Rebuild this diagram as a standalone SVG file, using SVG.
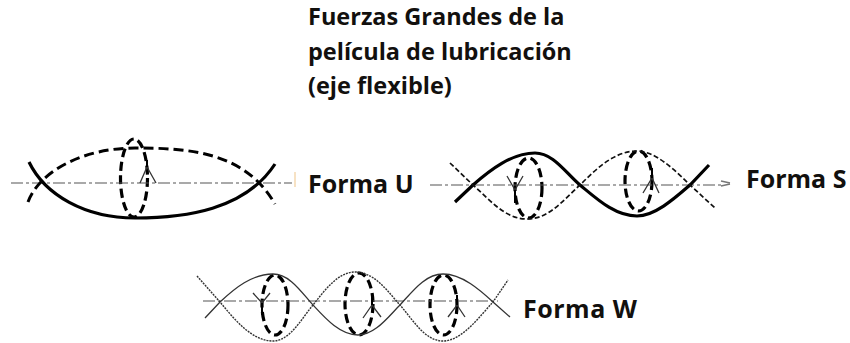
<svg xmlns="http://www.w3.org/2000/svg" width="850" height="343" viewBox="0 0 850 343">
<style>
text{font-family:"Open Sans","Noto Sans","Liberation Sans",sans-serif;font-weight:700;fill:#12100e}
.title{font-size:23.5px}
.lab{font-size:25px}
path,line{fill:none}
.axis{stroke:#555;stroke-width:1.2;stroke-dasharray:12 3 3 3}
.thick{stroke:#000;stroke-width:3.2}
.dash{stroke:#000;stroke-width:3;stroke-dasharray:10 5}
.sdash{stroke:#111;stroke-width:1.7;stroke-dasharray:5 2.500}
.thin{stroke:#333;stroke-width:1.3}
.dot{stroke:#333;stroke-width:1.4;stroke-dasharray:2 1}
.ell{fill:none;stroke:#000;stroke-width:3.200;stroke-dasharray:9 4.500}
.arr{stroke:#333;stroke-width:1.3}
</style>
<g id="title"><text class="title" x="308" y="25">Fuerzas Grandes de la</text><text class="title" x="308" y="60">película de lubricación</text><text class="title" x="308" y="94">(eje flexible)</text></g>
<g id="forma-u">
<ellipse class="ell" cx="134" cy="178" rx="13.5" ry="39"/>
<text class="lab" x="308" y="193">Forma U</text>
</g>
<g id="forma-s">
<ellipse class="ell" cx="528.500" cy="188" rx="13.500" ry="30"/>
<ellipse class="ell" cx="638.500" cy="181" rx="13.500" ry="30"/>
<text class="lab" x="746" y="188">Forma S</text>
</g>
<g id="forma-w">
<ellipse class="ell" cx="275" cy="305" rx="13" ry="30"/>
<ellipse class="ell" cx="359" cy="304" rx="14" ry="31"/>
<ellipse class="ell" cx="443.500" cy="305" rx="13.500" ry="30"/>
<text class="lab" x="523" y="318" textLength="114">Forma W</text>
</g>
<g id="connectors">
<line class="axis" x1="11" y1="183" x2="292" y2="183"/>
<line x1="295" y1="172" x2="295" y2="187" stroke="#f5d9b0" stroke-width="1.5"/>
<path class="thick" d="M29 162C45 195 85 218 135 218C185 218 245 210 275 164"/>
<path class="dash" d="M28 202C40 170 85 148 135 148C190 148 245 152 275 204"/>
<path class="arr" d="M140 183L147 167L156 183"/>
<path d="M147 167V160" stroke="#000" stroke-width="2"/>
<line class="axis" x1="430" y1="185" x2="722" y2="185"/>
<path d="M721 181L730 183M721 186L730 184" stroke="#777" stroke-width="1.500"/>
<path class="thick" d="M455 202L473 185C490 170 512 153 535 153C553 153 565 172 580 185C597 199 615 216 637 216C655 216 675 198 690 185L709 165"/>
<path class="sdash" d="M450 163L473 185C490 200 505 219 527 219C550 219 565 198 580 185C597 168 615 151 637 151C655 151 675 170 690 185L715 208"/>
<path class="arr" d="M507 176L515 190L523 176"/>
<path d="M515 190V203" stroke="#000" stroke-width="2"/>
<path class="arr" d="M643 193L652 178L659 193"/>
<path d="M652 178V168" stroke="#000" stroke-width="2"/>
<line class="axis" x1="203" y1="301" x2="498" y2="301"/>
<path class="thin" d="M205 318L220 302C235 288 252 274 273 274C290 274 302 293 313 305C325 318 340 335 358 335C375 335 388 317 400 305C412 292 425 274 443 274C462 274 480 290 493 302L510 317"/>
<path class="dot" d="M197 276L220 302C235 320 252 341 273 341C290 341 302 318 313 305C325 290 338 272 355 272C375 272 388 292 400 305C413 320 425 341 443 341C462 341 480 316 493 302L508 280"/>
<path class="arr" d="M253 293L262 303L270 293"/>
<path d="M262 303V315" stroke="#000" stroke-width="2"/>
<path class="arr" d="M363 318L372 305L381 317"/>
<path d="M372 305V295" stroke="#000" stroke-width="2"/>
<path class="arr" d="M448 317L457 305L465 317"/>
<path d="M457 305V295" stroke="#000" stroke-width="2"/>
</g>
</svg>
